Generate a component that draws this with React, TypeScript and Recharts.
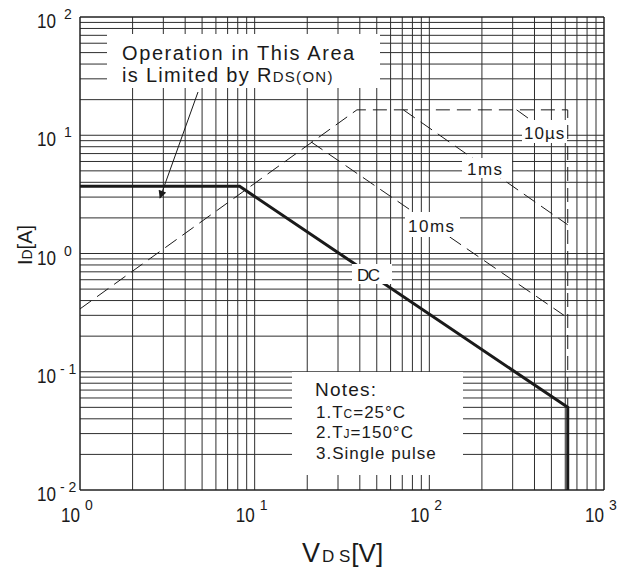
import React from "react";
import { ComposedChart, Line, XAxis, YAxis, CartesianGrid, ReferenceLine } from "recharts";

// ---- axis ticks (log grid, every 1..9 of each decade) ----
const xTicks = [
  1, 2, 3, 4, 5, 6, 7, 8, 9,
  10, 20, 30, 40, 50, 60, 70, 80, 90,
  100, 200, 300, 400, 500, 600, 700, 800, 900,
  1000,
];
const yTicks = [
  0.01, 0.02, 0.03, 0.04, 0.05, 0.06, 0.07, 0.08, 0.09,
  0.1, 0.2, 0.3, 0.4, 0.5, 0.6, 0.7, 0.8, 0.9,
  1, 2, 3, 4, 5, 6, 7, 8, 9,
  10, 20, 30, 40, 50, 60, 70, 80, 90,
  100,
];
const xDecades = [1, 10, 100, 1000];
const xExponents = ["0", "1", "2", "3"];
const yDecades = [0.01, 0.1, 1, 10, 100];
const yExponents = ["- 2", "- 1", "0", "1", "2"];

// ---- safe operating area curves (V, A) ----
const dcVolts = [1, 8.2, 620, 620];
const dcAmps = [3.7, 3.7, 0.05, 0.01];

const limitVolts = [1, 38.5, 620, 620];
const limitAmps = [0.34, 16.4, 16.4, 0.01];

const us10Volts = [316, 620];
const us10Amps = [16.4, 8.0];

const ms1Volts = [71, 620];
const ms1Amps = [16.4, 1.75];

const ms10Volts = [21, 590];
const ms10Amps = [8.8, 0.3];

const toPoints = (volts: number[], amps: number[]) =>
  volts.map((v, k) => ({ v, i: amps[k] }));

const dcData = toPoints(dcVolts, dcAmps);
const limitData = toPoints(limitVolts, limitAmps);
const us10Data = toPoints(us10Volts, us10Amps);
const ms1Data = toPoints(ms1Volts, ms1Amps);
const ms10Data = toPoints(ms10Volts, ms10Amps);

const W = 619;
const H = 570;
const FONT = "'Liberation Sans', Arial, sans-serif";
const INK = "#1a1a1a";
const GRID = "#2e2e2e";

function XTick(props: any) {
  const { x, payload } = props;
  const k = xDecades.indexOf(payload.value);
  if (k < 0) return <g />;
  return (
    <g fontFamily={FONT} fill={INK}>
      <text x={x} y={522} textAnchor="end" fontSize={20} textLength={19} lengthAdjust="spacingAndGlyphs">
        10
      </text>
      <text x={x + 5} y={510} fontSize={14}>
        {xExponents[k]}
      </text>
    </g>
  );
}

function YTick(props: any) {
  const { y, payload } = props;
  const k = yDecades.findIndex((d) => Math.abs(d - payload.value) < d * 1e-6);
  if (k < 0) return <g />;
  return (
    <g fontFamily={FONT} fill={INK}>
      <text x={56} y={y + 11} textAnchor="end" fontSize={20} textLength={19} lengthAdjust="spacingAndGlyphs">
        10
      </text>
      <text x={yExponents[k].length > 1 ? 60 : 64} y={y + 2} fontSize={14}>
        {yExponents[k]}
      </text>
    </g>
  );
}

function Overlay() {
  return (
    <svg
      width={W}
      height={H}
      style={{ position: "absolute", left: 0, top: 0, pointerEvents: "none" }}
      fontFamily={FONT}
      fill={INK}
    >
      <defs>
        <marker id="arrowHead" viewBox="0 0 10 10" refX="9" refY="5" markerWidth="10" markerHeight="8" orient="auto" markerUnits="userSpaceOnUse">
          <path d="M0,0 L10,5 L0,10 z" fill={INK} />
        </marker>
      </defs>

      {/* RDS(on) note */}
      <rect x={107} y={34} width={273} height={54} fill="#fff" />
      <text x={122} y={60} fontSize={20} letterSpacing={1.6}>
        Operation in This Area
      </text>
      <text x={122} y={82} fontSize={20} letterSpacing={1.3}>
        is Limited by R<tspan fontSize={15}>DS(ON)</tspan>
      </text>
      <line x1={198} y1={92} x2={160} y2={198} stroke={INK} strokeWidth={1} markerEnd="url(#arrowHead)" />

      {/* curve labels */}
      <rect x={522} y={120} width={45} height={23} fill="#fff" />
      <text x={524} y={139} fontSize={17} letterSpacing={1}>10µs</text>

      <rect x={462} y={158} width={50} height={20} fill="#fff" />
      <text x={467} y={175} fontSize={17} letterSpacing={1.5}>1ms</text>

      <rect x={405} y={212} width={55} height={25} fill="#fff" />
      <text x={408} y={232} fontSize={17} letterSpacing={1.5}>10ms</text>

      <rect x={352} y={264} width={40} height={20} fill="#fff" />
      <text x={357} y={281} fontSize={17} textLength={23} lengthAdjust="spacing">DC</text>

      {/* notes */}
      <rect x={292} y={372} width={171} height={103} fill="#fff" />
      <text x={315} y={396} fontSize={19} letterSpacing={1.2}>Notes:</text>
      <text x={316} y={418} fontSize={17} letterSpacing={1}>
        1.T<tspan fontSize={12}>C</tspan>=25°C
      </text>
      <text x={316} y={438} fontSize={17} letterSpacing={1}>
        2.T<tspan fontSize={12}>J</tspan>=150°C
      </text>
      <text x={316} y={459} fontSize={17} letterSpacing={1}>
        3.Single pulse
      </text>

      {/* axis titles */}
      <text x={302} y={562} fontSize={27}>
        V<tspan fontSize={17} dx={2}>D S</tspan>
        <tspan fontSize={26} dx={1}>[V]</tspan>
      </text>
      <text transform="translate(32,245) rotate(-90)" textAnchor="middle" fontSize={20}>
        I<tspan fontSize={14}>D</tspan>[A]
      </text>
    </svg>
  );
}

export default function App() {
  return (
    <div style={{ position: "absolute", left: 0, top: 0, width: W, height: H, background: "#fff" }}>
      <ComposedChart width={W} height={H} margin={{ top: 17, right: 15, bottom: 0, left: 0 }}>
        <CartesianGrid stroke={GRID} strokeWidth={1} />
        <XAxis
          dataKey="v"
          type="number"
          scale="log"
          domain={[1, 1000]}
          ticks={xTicks}
          interval={0}
          allowDataOverflow
          height={80}
          tickSize={0}
          tickMargin={0}
          tickLine={false}
          axisLine={{ stroke: INK }}
          tick={<XTick />}
        />
        <YAxis
          type="number"
          scale="log"
          domain={[0.01, 100]}
          ticks={yTicks}
          interval={0}
          allowDataOverflow
          width={80}
          tickSize={0}
          tickMargin={0}
          tickLine={false}
          axisLine={{ stroke: INK }}
          tick={<YTick />}
        />
        <ReferenceLine x={1000} stroke={INK} />
        <ReferenceLine y={100} stroke={INK} />
        <Line data={limitData} dataKey="i" type="linear" stroke={INK} strokeWidth={1} strokeDasharray="14 7" dot={false} isAnimationActive={false} />
        <Line data={us10Data} dataKey="i" type="linear" stroke={INK} strokeWidth={1} strokeDasharray="14 7" dot={false} isAnimationActive={false} />
        <Line data={ms1Data} dataKey="i" type="linear" stroke={INK} strokeWidth={1} strokeDasharray="14 7" dot={false} isAnimationActive={false} />
        <Line data={ms10Data} dataKey="i" type="linear" stroke={INK} strokeWidth={1} strokeDasharray="14 7" dot={false} isAnimationActive={false} />
        <Line data={dcData} dataKey="i" type="linear" stroke={INK} strokeWidth={3} dot={false} isAnimationActive={false} />
      </ComposedChart>
      <Overlay />
    </div>
  );
}
